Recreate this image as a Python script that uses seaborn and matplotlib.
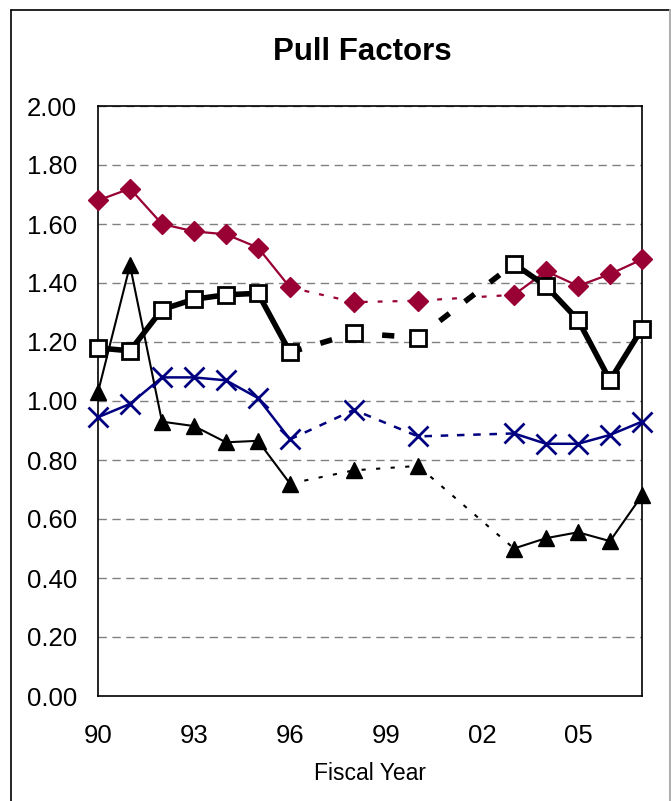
"""
Pull Factors by fiscal year, four series with gap years drawn dashed.
Saves out.png
"""

import numpy as np
import pandas as pd
import matplotlib.pyplot as plt
import seaborn as sns
from matplotlib.lines import Line2D

years = [1990, 1991, 1992, 1993, 1994, 1995, 1996, 1998, 2000, 2003, 2004, 2005, 2006, 2007]

diamond_vals = [1.68, 1.72, 1.60, 1.575, 1.565, 1.52, 1.385, 1.335, 1.34, 1.36, 1.44, 1.39, 1.43, 1.48]
square_vals = [1.18, 1.17, 1.31, 1.345, 1.36, 1.365, 1.165, 1.23, 1.215, 1.465, 1.39, 1.275, 1.07, 1.245]
cross_vals = [0.945, 0.99, 1.08, 1.08, 1.07, 1.01, 0.87, 0.97, 0.88, 0.89, 0.855, 0.855, 0.885, 0.93]
triangle_vals = [1.03, 1.46, 0.93, 0.915, 0.86, 0.865, 0.72, 0.765, 0.78, 0.50, 0.535, 0.555, 0.525, 0.68]

tick_years = list(range(1990, 2008))
label_years = [1990, 1993, 1996, 1999, 2002, 2005]
y_ticks = np.arange(0, 2.01, 0.2)

# years whose neighbours are missing -> dashed joins
gap_years = [1996, 1998, 2000, 2003]

styles = [
    # values, colour, lw, dash pattern, marker, ms, face, mew
    (diamond_vals, "#990033", 1.6, (0, (2.2, 4.5)), "D", 10, "#990033", 1),
    (square_vals, "black", 4.0, (0, (2.2, 3.5)), "s", 11, "white", 2),
    (cross_vals, "#000080", 1.8, (0, (3, 3.5)), "x", 15, "#000080", 2),
    (triangle_vals, "black", 1.5, (0, (2, 5)), "^", 11, "black", 1),
]

sns.set_theme(style="white")
plt.rcParams["font.family"] = ["Liberation Sans", "DejaVu Sans"]
plt.rcParams["text.color"] = "black"
plt.rcParams["axes.labelcolor"] = "black"

fig = plt.figure(figsize=(6.71, 8.01), dpi=100)
ax = fig.add_axes([98 / 671, 1 - 696 / 801, (642 - 98) / 671, (696 - 106) / 801])

for vals, color, lw, dash, marker, ms, face, mew in styles:
    df = pd.DataFrame({"year": years, "value": vals})
    early = df[df.year <= 1996]
    late = df[df.year >= 2003]
    mid = df[df.year.isin(gap_years)]
    for part in (early, late):
        sns.lineplot(data=part, x="year", y="value", color=color, lw=lw,
                     estimator=None, sort=False, ax=ax, legend=False)
    sns.lineplot(data=mid, x="year", y="value", color=color, lw=lw,
                 linestyle=dash, estimator=None, sort=False, ax=ax, legend=False)
    sns.lineplot(data=df, x="year", y="value", color=color, linestyle="none",
                 marker=marker, markersize=ms, markerfacecolor=face,
                 markeredgecolor=color, markeredgewidth=mew, clip_on=False,
                 estimator=None, sort=False, ax=ax, legend=False, zorder=5)

ax.set_xlim(1990, 2007)
ax.set_ylim(0, 2.0)
ax.set_yticks(y_ticks)
ax.set_yticklabels([f"{v:.2f}" for v in y_ticks], fontsize=18.5)
ax.set_xticks(tick_years)
ax.set_xticklabels([f"{y % 100:02d}" if y in label_years else "" for y in tick_years],
                   fontsize=18.5)
ax.tick_params(axis="y", direction="out", length=6, width=1, pad=9,
               colors="black", labelcolor="black")
ax.tick_params(axis="x", direction="inout", length=12, width=1, pad=14,
               colors="black", labelcolor="black")

for y in y_ticks[1:]:
    ax.axhline(y, color="#808080", lw=1, linestyle=(0, (6, 4)), zorder=0)

for side in ax.spines.values():
    side.set_visible(True)
    side.set_color("black")
    side.set_linewidth(1.2)

ax.set_xlabel("Fiscal Year", fontsize=16.5, labelpad=10, color="black")
ax.set_ylabel("")
fig.text(362 / 671, 1 - 52 / 801, "Pull Factors", ha="center", va="center",
         fontsize=22.5, fontweight="bold", color="black")

# outer chart border
fig.add_artist(Line2D([11 / 671, 670 / 671], [1 - 10 / 801] * 2, color="black", lw=1.2,
                      transform=fig.transFigure))
fig.add_artist(Line2D([11 / 671] * 2, [0, 1 - 10 / 801], color="black", lw=1.2,
                      transform=fig.transFigure))
fig.add_artist(Line2D([670 / 671] * 2, [0, 1 - 10 / 801], color="#b0b0b0", lw=1.5,
                      transform=fig.transFigure))

fig.savefig("out.png", dpi=100)
